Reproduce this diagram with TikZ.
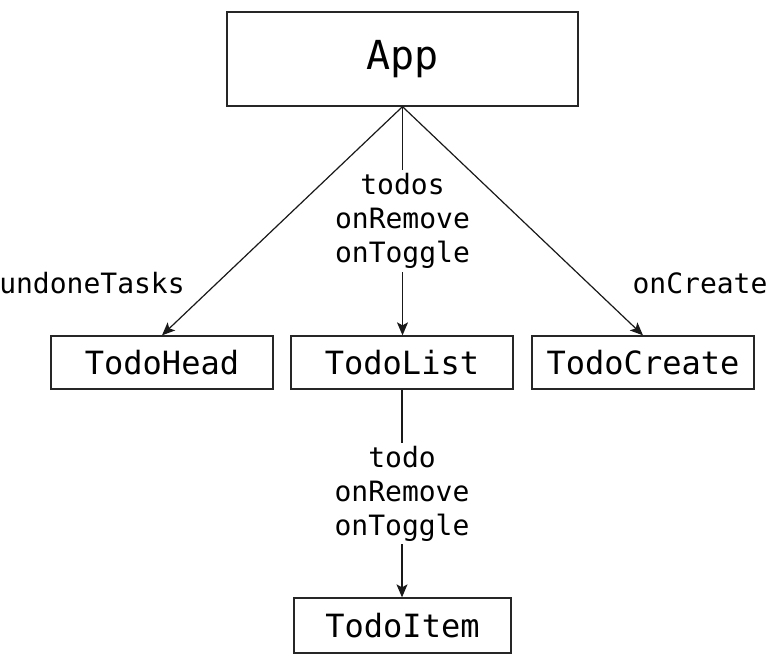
\documentclass[tikz,border=0pt]{standalone}
\usepackage{fontspec}
\newfontfamily\codefont{DejaVu Sans Mono}
\usetikzlibrary{arrows.meta}
\begin{document}
\begin{tikzpicture}[x=1pt,y=-1pt,
  box/.style={draw=black!85,line width=1.3pt,inner sep=0pt,minimum height=53pt,minimum width=222pt,
    font=\codefont\fontsize{32}{38}\selectfont},
  conn/.style={draw=black!90,line width=1.2pt,-{Stealth[length=13pt,width=11pt,inset=3pt]}},
  lbl/.style={fill=white,inner sep=3pt,align=center,font=\codefont\fontsize{28}{34}\selectfont},
  freelbl/.style={inner sep=0pt,align=center,font=\codefont\fontsize{28}{34}\selectfont}]
\useasboundingbox (0,0) rectangle (781,669);
\node[box,minimum width=351pt,minimum height=94pt,font=\codefont\fontsize{40}{48}\selectfont] (app) at (402.5,59) {App};
\node[box] (head) at (162,362.5) {TodoHead};
\node[box] (list) at (402,362.5) {TodoList};
\node[box] (create) at (643,362.5) {TodoCreate};
\node[box,minimum width=217pt,minimum height=55pt] (item) at (402.5,625.5) {TodoItem};
\draw[conn] (app.south) -- node[lbl] {todos\\onRemove\\onToggle} (app.south |- list.north);
\draw[conn] (app.south) -- (head.north);
\draw[conn] (app.south) -- (create.north);
\draw[conn] (list.south) -- node[lbl] {todo\\onRemove\\onToggle} (list.south |- item.north);
\node[freelbl] (undone) at (92,283) {undoneTasks};
\node[freelbl] (oncreate) at (700,283) {onCreate};
\end{tikzpicture}
\end{document}
